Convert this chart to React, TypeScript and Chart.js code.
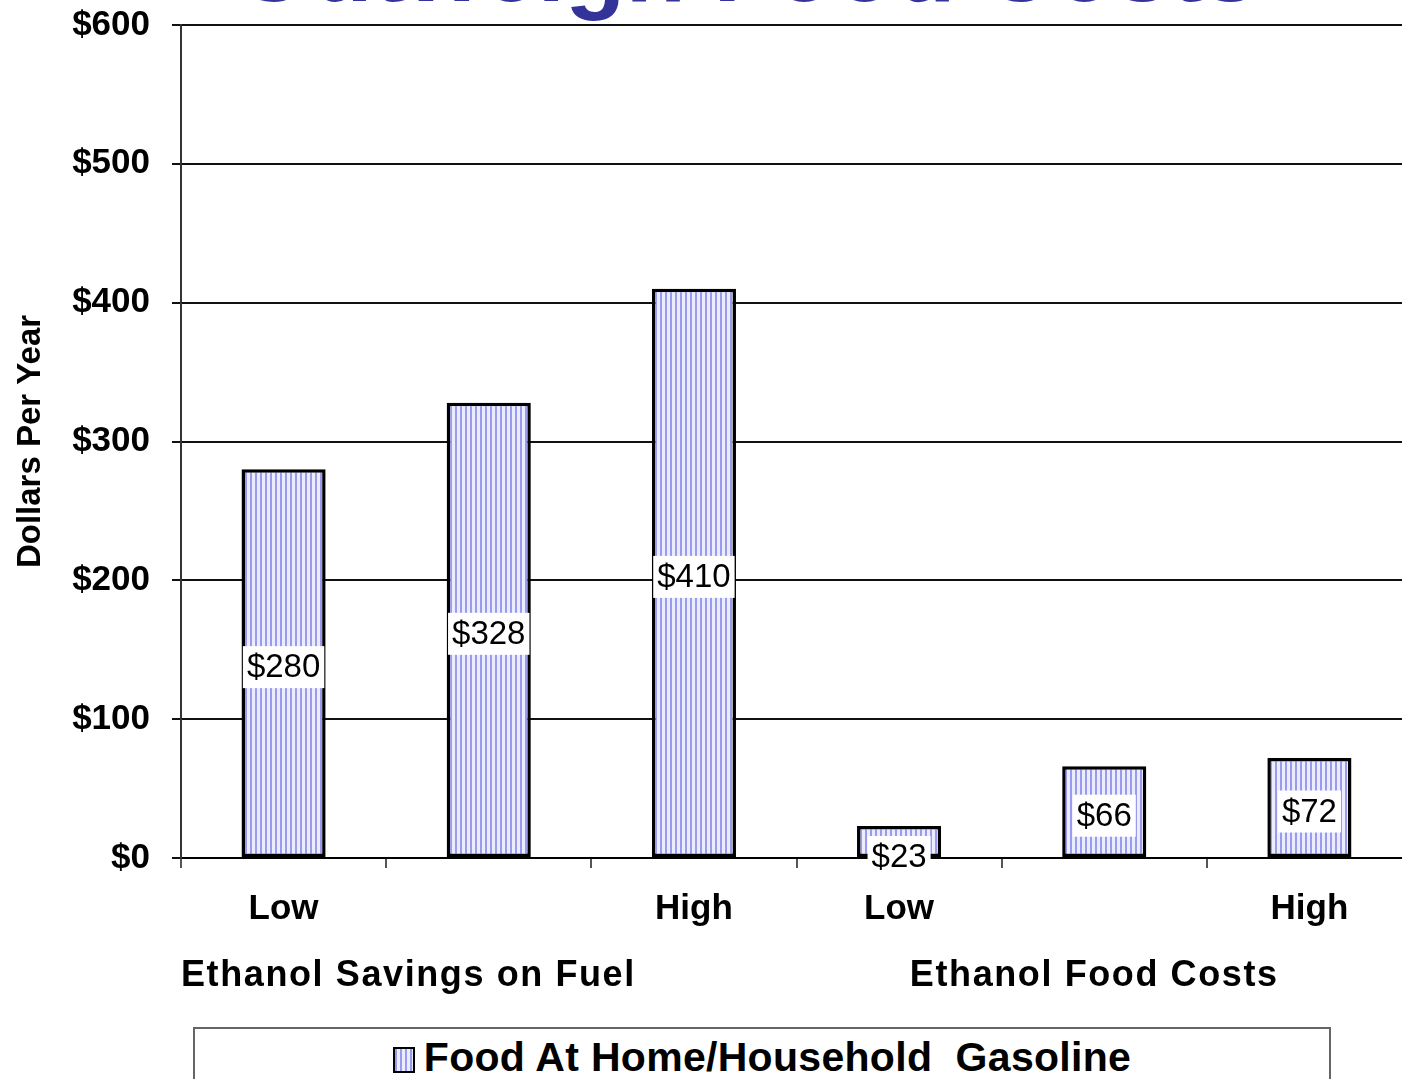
import React, { useEffect, useRef } from "react";
import { Chart, registerables } from "chart.js";

Chart.register(...registerables);

// ---- data ----
const categories = ["Low", "", "High", "Low", "", "High"];
const values = [280, 328, 410, 23, 66, 72];
const valueLabels = ["$280", "$328", "$410", "$23", "$66", "$72"];
const groupLabels = ["Ethanol Savings on Fuel", "Ethanol Food Costs"];
const groupSizes = [3, 3];
const yMin = 0;
const yMax = 600;
const yStep = 100;
const seriesName = "Food At Home/Household Gasoline";
const titleText = "Outweigh Food Costs";
const yAxisTitle = "Dollars Per Year";

const FONT = "'Liberation Sans', Arial, Helvetica, sans-serif";
const CANVAS_W = 1412;
const CANVAS_H = 1020;

function makePattern(): CanvasPattern | string {
  const c = document.createElement("canvas");
  c.width = 5;
  c.height = 5;
  const g = c.getContext("2d");
  if (!g) return "#c8c8ff";
  g.fillStyle = "#ececff";
  g.fillRect(0, 0, 5, 5);
  g.fillStyle = "#9a9aee";
  g.fillRect(0, 0, 2, 5);
  const ctx = document.createElement("canvas").getContext("2d");
  const p = ctx ? ctx.createPattern(c, "repeat") : null;
  return p || "#c8c8ff";
}

const valueLabelPlugin = {
  id: "valueLabels",
  afterDatasetsDraw(chart: any) {
    const ctx = chart.ctx;
    const meta = chart.getDatasetMeta(0);
    ctx.save();
    ctx.font = `33px ${FONT}`;
    ctx.textAlign = "center";
    ctx.textBaseline = "middle";
    meta.data.forEach((bar: any, i: number) => {
      const text = valueLabels[i];
      const h = bar.base - bar.y;
      const cy = h < 45 ? bar.base : (bar.y + bar.base) / 2 + 4;
      const w = ctx.measureText(text).width + 8;
      const bh = 42;
      ctx.fillStyle = "#ffffff";
      ctx.fillRect(bar.x - w / 2, cy - bh / 2, w, bh);
      ctx.fillStyle = "#000000";
      ctx.fillText(text, bar.x, cy + 1);
    });
    ctx.restore();
  },
};

const groupLabelPlugin = {
  id: "groupLabels",
  afterDraw(chart: any) {
    const ctx = chart.ctx;
    const xs = chart.scales.x;
    const n = categories.length;
    const band = (xs.right - xs.left) / n;
    ctx.save();
    ctx.font = `bold 36px ${FONT}`;
    (ctx as any).letterSpacing = "1.6px";
    ctx.fillStyle = "#000";
    ctx.textBaseline = "middle";
    let start = 0;
    groupLabels.forEach((lbl, gi) => {
      const size = groupSizes[gi];
      const left = xs.getPixelForValue(start) - band / 2;
      const right = xs.getPixelForValue(start + size - 1) + band / 2;
      if (gi === 0) {
        ctx.textAlign = "left";
        ctx.fillText(lbl, left, 976);
      } else {
        ctx.textAlign = "center";
        ctx.fillText(lbl, (left + right) / 2 - 10, 976);
      }
      start += size;
    });
    ctx.restore();
  },
};

export default function App() {
  const ref = useRef<HTMLCanvasElement | null>(null);

  useEffect(() => {
    document.body.style.margin = "0";
    document.body.style.overflow = "hidden";
    const canvas = ref.current;
    if (!canvas) return;
    const pattern = makePattern();
    const chart = new Chart(canvas, {
      type: "bar",
      data: {
        labels: categories,
        datasets: [
          {
            label: seriesName,
            data: values,
            backgroundColor: pattern as any,
            borderColor: "#000000",
            borderWidth: 3.5,
            borderSkipped: false,
            barPercentage: 0.82,
            categoryPercentage: 0.5,
          },
        ],
      },
      options: {
        animation: false,
        responsive: false,
        maintainAspectRatio: false,
        devicePixelRatio: 1,
        layout: { padding: { top: 25, right: 0, left: 0, bottom: 0 } },
        plugins: {
          legend: { display: false },
          tooltip: { enabled: false },
          title: { display: false },
        },
        scales: {
          x: {
            offset: true,
            grid: {
              display: true,
              drawOnChartArea: false,
              offset: true,
              tickLength: 10,
              color: "#555",
              lineWidth: 2,
            },
            border: { color: "#000", width: 2 },
            ticks: {
              color: "#000",
              font: { family: FONT, size: 35, weight: "bold" },
              padding: 20,
              maxRotation: 0,
              autoSkip: false,
            },
            afterFit: (s: any) => {
              s.height = CANVAS_H - 858;
              s.paddingLeft = 0;
              s.paddingRight = 0;
            },
          },
          y: {
            min: yMin,
            max: yMax,
            ticks: {
              stepSize: yStep,
              color: "#000",
              font: { family: FONT, size: 35, weight: "bold" },
              padding: 22,
              callback: (v: any) => "$" + v,
            },
            grid: { color: "#111", lineWidth: 2, tickLength: 9 },
            border: { color: "#333", width: 2 },
            title: {
              display: true,
              text: yAxisTitle,
              color: "#000",
              font: { family: FONT, size: 33, weight: "bold" },
              padding: { top: 11, bottom: 0 },
            },
            afterFit: (s: any) => {
              s.width = 181;
              s.paddingTop = 0;
              s.paddingBottom = 0;
            },
          },
        },
      },
      plugins: [valueLabelPlugin, groupLabelPlugin],
    } as any);
    return () => chart.destroy();
  }, []);

  return (
    <div
      style={{
        position: "fixed",
        left: 0,
        top: 0,
        width: 1402,
        height: 1079,
        overflow: "hidden",
        background: "#fff",
      }}
    >
      <canvas
        ref={ref}
        width={CANVAS_W}
        height={CANVAS_H}
        style={{ position: "absolute", left: 0, top: 0, width: CANVAS_W, height: CANVAS_H }}
      />
      <div
        style={{
          position: "absolute",
          left: 235,
          top: -82,
          fontFamily: FONT,
          fontWeight: "bold",
          fontSize: 99,
          lineHeight: "98px",
          color: "#333399",
          whiteSpace: "nowrap",
        }}
      >
        {titleText}
      </div>
      <div
        style={{
          position: "absolute",
          left: 193,
          top: 1027,
          width: 1138,
          height: 80,
          border: "2px solid #666",
          boxSizing: "border-box",
          display: "flex",
          justifyContent: "center",
          alignItems: "flex-start",
          paddingTop: 5,
          fontFamily: FONT,
          fontWeight: "bold",
          fontSize: 41,
          color: "#000",
          whiteSpace: "pre",
        }}
      >
        <span
          style={{
            display: "inline-block",
            width: 18,
            height: 22,
            marginTop: 13,
            marginRight: 9,
            border: "2px solid #000",
            background:
              "repeating-linear-gradient(90deg, #9a9aee 0px, #9a9aee 2px, #ececff 2px, #ececff 5px)",
          }}
        />
        <span style={{ letterSpacing: "0.3px" }}>{seriesName.replace("Household ", "Household  ")}</span>
      </div>
    </div>
  );
}
